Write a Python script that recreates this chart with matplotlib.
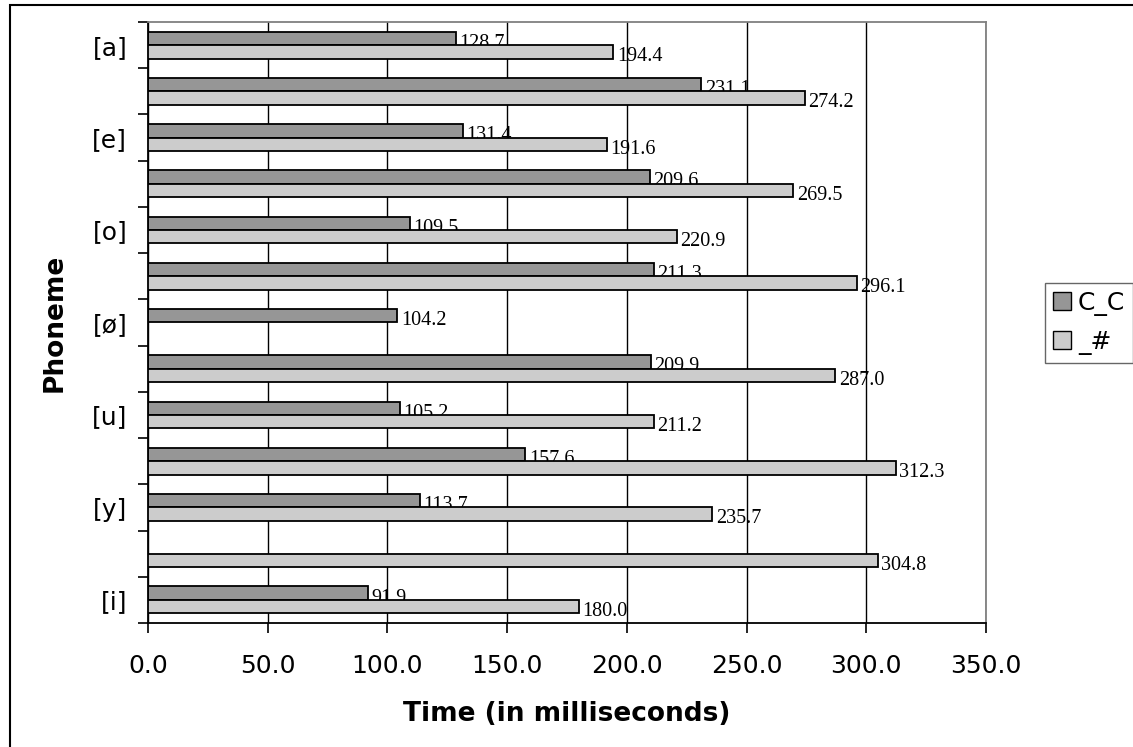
#!/usr/bin/env python3
"""Phoneme durations: C_C vs _# contexts, horizontal grouped bars."""

import numpy as np
import matplotlib
matplotlib.use('Agg')
import matplotlib.pyplot as plt
import matplotlib.patches as mpatches

# categories listed bottom to top; unlabeled rows have no visible tick label
categories = ['[i]', '', '[y]', '', '[u]', '', '[ø]', '', '[o]', '', '[e]', '', '[a]']
cc_values = [91.9, np.nan, 113.7, 157.6, 105.2, 209.9, 104.2, 211.3, 109.5, 209.6, 131.4, 231.1, 128.7]
end_values = [180.0, 304.8, 235.7, 312.3, 211.2, 287.0, np.nan, 296.1, 220.9, 269.5, 191.6, 274.2, 194.4]
series_names = ['C_C', '_#']
x_ticks = [0, 50, 100, 150, 200, 250, 300, 350]

DARK = '#969696'
LIGHT = '#cccccc'

fig = plt.figure(figsize=(11.33, 7.47), dpi=100)
# outer chart border (right and bottom edges fall outside the image)
fig.patches.append(mpatches.Rectangle((10 / 1133, -0.1), 1.2, (742 / 747) + 0.1,
                                      transform=fig.transFigure, fill=False,
                                      edgecolor='black', linewidth=1.5))

ax = fig.add_axes([148 / 1133, 124 / 747, 838 / 1133, 601 / 747])

y = np.arange(len(categories))
h = 0.29

# dark series first, then light bars drawn over the dark labels (as in the original)
ax.barh(y + h / 2, cc_values, height=h, color=DARK, edgecolor='black',
        linewidth=1.3, zorder=2, label=series_names[0])
for yi, v in zip(y, cc_values):
    if not np.isnan(v):
        ax.annotate(f'{v:.1f}', (v, yi + h / 2), xytext=(2.5, -3.5), textcoords='offset points',
                    va='center', ha='left', fontsize=14.5, family='Liberation Serif', zorder=3)

ax.barh(y - h / 2, end_values, height=h, color=LIGHT, edgecolor='black',
        linewidth=1.3, zorder=4, label=series_names[1])
for yi, v in zip(y, end_values):
    if not np.isnan(v):
        ax.annotate(f'{v:.1f}', (v, yi - h / 2), xytext=(2.5, -3.5), textcoords='offset points',
                    va='center', ha='left', fontsize=14.5, family='Liberation Serif', zorder=5)

ax.set_xlim(0, 350)
ax.set_ylim(-0.5, len(categories) - 0.5)

ax.set_xticks(x_ticks)
ax.set_xticklabels([f'{t:.1f}' for t in x_ticks], fontsize=18)
ax.grid(axis='x', color='black', linewidth=1.0, zorder=0)
ax.set_axisbelow(True)

# tick marks at category boundaries, labels at centers
ax.set_yticks(np.arange(len(categories) + 1) - 0.5)
ax.set_yticklabels([])
ax.set_yticks(y, minor=True)
ax.set_yticklabels(categories, minor=True, fontsize=18)
ax.tick_params(axis='y', which='minor', length=0, pad=15)
ax.tick_params(axis='y', which='major', length=7, width=1.2, direction='out')
ax.tick_params(axis='x', length=7, width=1.2, direction='out', pad=15)

for side in ['top', 'right']:
    ax.spines[side].set_color('#808080')
    ax.spines[side].set_linewidth(1.3)
for side in ['left', 'bottom']:
    ax.spines[side].set_color('black')
    ax.spines[side].set_linewidth(1.3)

ax.set_xlabel('Time (in milliseconds)', fontsize=19, fontweight='bold')
ax.xaxis.set_label_coords(0.5, -(701 - 623) / 601)
ax.set_ylabel('Phoneme', fontsize=19, fontweight='bold')
ax.yaxis.set_label_coords(-(148 - 68) / 838, 0.5)

handles = [mpatches.Patch(facecolor=DARK, edgecolor='black', label=series_names[0]),
           mpatches.Patch(facecolor=LIGHT, edgecolor='black', label=series_names[1])]
leg = fig.legend(handles=handles, loc='upper left', bbox_to_anchor=(1045 / 1133, 1 - 283 / 747),
                 fontsize=18, frameon=True, fancybox=False, handlelength=0.72,
                 handleheight=0.72, handletextpad=0.28, borderpad=0.32, labelspacing=0.55,
                 borderaxespad=0)
leg.get_frame().set_edgecolor('#404040')
leg.get_frame().set_linewidth(1.0)

fig.savefig('out.png', dpi=100)
